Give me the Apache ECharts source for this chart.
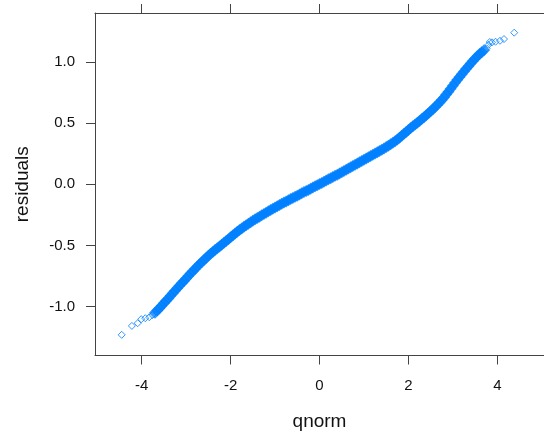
<!DOCTYPE html>
<html>
<head>
<meta charset="utf-8">
<script src="https://cdn.jsdelivr.net/npm/echarts@6/dist/echarts.min.js"></script>
<style>html,body{margin:0;padding:0;background:#fff}#c{width:544px;height:439px}</style>
</head>
<body>
<div id="c"></div>
<script>
// Dense body of the Q-Q plot (qnorm, residuals)
var bodyQnorm = [-3.7,-3.6,-3.5,-3.4,-3.3,-3.2,-3.1,-3.0,-2.9,-2.8,-2.7,-2.6,-2.5,-2.4,-2.3,-2.2,-2.1,-2.0,-1.9,-1.8,-1.7,-1.6,-1.5,-1.4,-1.3,-1.2,-1.1,-1.0,-0.9,-0.8,-0.7,-0.6,-0.5,-0.4,-0.3,-0.2,-0.1,0.0,0.1,0.2,0.3,0.4,0.5,0.6,0.7,0.8,0.9,1.0,1.1,1.2,1.3,1.4,1.5,1.6,1.7,1.8,1.9,2.0,2.1,2.2,2.3,2.4,2.5,2.6,2.7,2.8,2.9,3.0,3.1,3.2,3.3,3.4,3.5,3.6,3.7];
var bodyResid = [-1.050,-1.013,-0.973,-0.933,-0.892,-0.851,-0.810,-0.770,-0.730,-0.692,-0.655,-0.619,-0.585,-0.553,-0.523,-0.494,-0.464,-0.434,-0.403,-0.374,-0.348,-0.323,-0.299,-0.276,-0.254,-0.232,-0.211,-0.190,-0.170,-0.150,-0.131,-0.112,-0.093,-0.074,-0.055,-0.036,-0.017,0.002,0.021,0.040,0.059,0.078,0.098,0.118,0.139,0.160,0.180,0.201,0.221,0.242,0.262,0.283,0.304,0.326,0.352,0.381,0.412,0.444,0.474,0.503,0.533,0.564,0.597,0.632,0.669,0.710,0.756,0.805,0.854,0.900,0.944,0.987,1.029,1.064,1.095];
var midQnorm = [-3.65,-3.55,-3.45,-3.35,-3.25,-3.15,-3.05,-2.95,-2.85,-2.75,-2.65,-2.55,-2.45,-2.35,-2.25,-2.15,-2.05,-1.95,-1.85,-1.75,-1.65,-1.55,-1.45,-1.35,-1.25,-1.15,-1.05,-0.95,-0.85,-0.75,-0.65,-0.55,-0.45,-0.35,-0.25,-0.15,-0.05,0.05,0.15,0.25,0.35,0.45,0.55,0.65,0.75,0.85,0.95,1.05,1.15,1.25,1.35,1.45,1.55,1.65,1.75,1.85,1.95,2.05,2.15,2.25,2.35,2.45,2.55,2.65,2.75,2.85,2.95,3.05,3.15,3.25,3.35,3.45,3.55,3.65];
var midResid = [-1.032,-0.993,-0.953,-0.912,-0.871,-0.830,-0.790,-0.750,-0.711,-0.673,-0.637,-0.602,-0.569,-0.538,-0.508,-0.479,-0.449,-0.418,-0.388,-0.361,-0.335,-0.311,-0.287,-0.265,-0.243,-0.221,-0.200,-0.180,-0.160,-0.140,-0.121,-0.102,-0.083,-0.064,-0.046,-0.027,-0.008,0.011,0.030,0.049,0.069,0.088,0.108,0.128,0.149,0.170,0.190,0.211,0.231,0.252,0.272,0.293,0.315,0.339,0.366,0.396,0.428,0.459,0.488,0.518,0.548,0.580,0.614,0.650,0.689,0.733,0.780,0.830,0.877,0.922,0.965,1.008,1.047,1.080];
// Sparse tail points
var lowQnorm = [-4.45,-4.22,-4.09,-4.01,-3.92,-3.83,-3.76];
var lowResid = [-1.231,-1.158,-1.136,-1.103,-1.095,-1.087,-1.070];
var highQnorm = [3.76,3.80,3.83,3.88,3.96,4.06,4.15,4.38];
var highResid = [1.111,1.140,1.163,1.160,1.165,1.173,1.187,1.239];
var xTicks = [-4,-2,0,2,4];
var yTicks = [-1.0,-0.5,0.0,0.5,1.0];

function pairs(a,b){return a.map(function(v,i){return [v,b[i]];});}
var blue = '#0080ff';
var axisCol = '#444';
var txtCol = '#111';
var font = 'Liberation Sans, Arial, sans-serif';
var chart = echarts.init(document.getElementById('c'), null, {renderer:'canvas'});
var openStyle = {color:'rgba(0,0,0,0)', borderColor:blue, borderWidth:1};
var fillStyle = {color:blue, borderWidth:0};
chart.setOption({
  animation:false,
  backgroundColor:'#fff',
  grid:{left:95, top:13, width:450.5, height:342.5, containLabel:false},
  xAxis:[{
    type:'value', position:'bottom', min:-5.05, max:5.05,
    name:'qnorm', nameLocation:'middle', nameGap:57,
    nameTextStyle:{fontFamily:font, fontSize:19, color:txtCol},
    axisLine:{show:true, onZero:false, lineStyle:{color:axisCol, width:1}},
    axisTick:{show:true, inside:false, length:9, customValues:xTicks, lineStyle:{color:axisCol}},
    axisLabel:{show:true, margin:23, customValues:xTicks, fontFamily:font, fontSize:15, color:txtCol},
    splitLine:{show:false}
  },{
    type:'value', position:'top', min:-5.05, max:5.05,
    axisLine:{show:true, onZero:false, lineStyle:{color:axisCol, width:1}},
    axisTick:{show:true, inside:false, length:9, customValues:xTicks, lineStyle:{color:axisCol}},
    axisLabel:{show:false},
    splitLine:{show:false}
  }],
  yAxis:[{
    type:'value', position:'left', min:-1.4, max:1.4,
    name:'residuals', nameLocation:'middle', nameGap:63,
    nameTextStyle:{fontFamily:font, fontSize:19, color:txtCol},
    axisLine:{show:true, onZero:false, lineStyle:{color:axisCol, width:1}},
    axisTick:{show:true, inside:false, length:9, customValues:yTicks, lineStyle:{color:axisCol}},
    axisLabel:{show:true, margin:20, customValues:yTicks, fontFamily:font, fontSize:15, color:txtCol,
      formatter:function(v){return Number(v).toFixed(1);}},
    splitLine:{show:false}
  },{
    type:'value', position:'right', min:-1.4, max:1.4,
    axisLine:{show:true, onZero:false, lineStyle:{color:axisCol, width:1}},
    axisTick:{show:true, inside:false, length:9, customValues:yTicks, lineStyle:{color:axisCol}},
    axisLabel:{show:false},
    splitLine:{show:false}
  }],
  series:[
    {type:'scatter', data:pairs(lowQnorm,lowResid), symbol:'diamond', symbolSize:7, itemStyle:openStyle, z:2},
    {type:'scatter', data:pairs(highQnorm,highResid), symbol:'diamond', symbolSize:7, itemStyle:openStyle, z:2},
    {type:'scatter', data:pairs(bodyQnorm,bodyResid), symbol:'diamond', symbolSize:12, itemStyle:fillStyle, z:3},
    {type:'scatter', data:pairs(midQnorm,midResid), symbol:'diamond', symbolSize:12, itemStyle:fillStyle, z:3}
  ]
});
</script>
</body>
</html>
